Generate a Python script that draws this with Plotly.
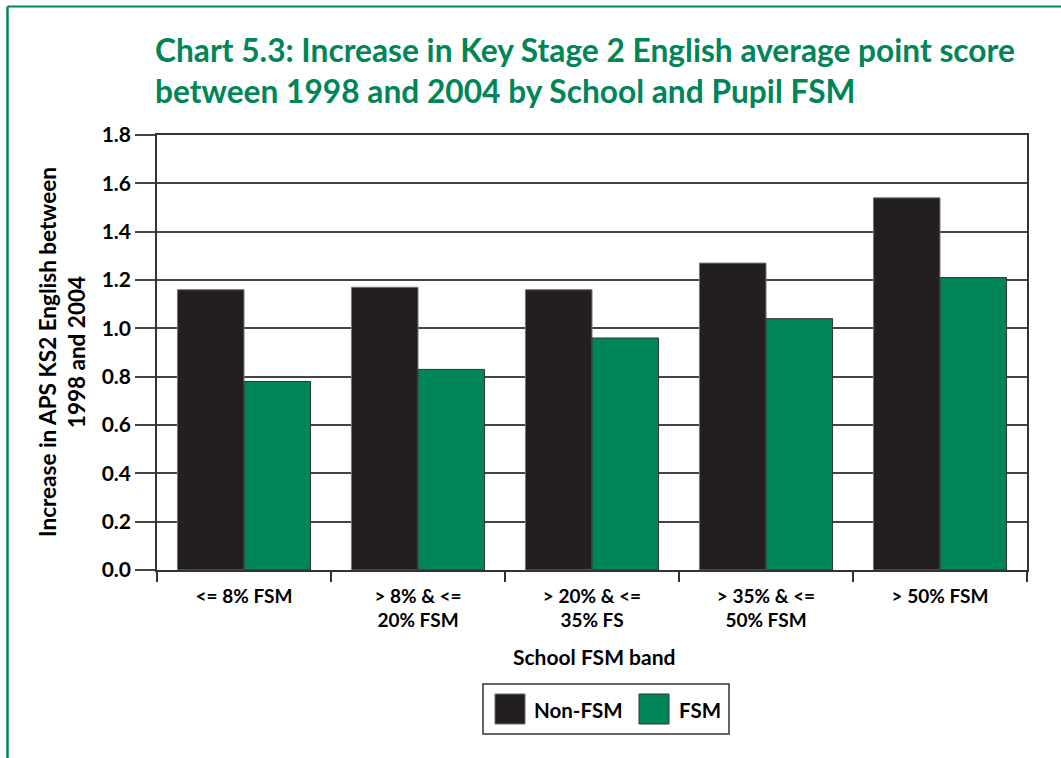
import plotly.graph_objects as go

# ---------------- data ----------------
categories = ["<= 8% FSM", "> 8% & <=<br>20% FSM", "> 20% & <=<br>35% FS",
              "> 35% & <=<br>50% FSM", "> 50% FSM"]
non_fsm = [1.16, 1.17, 1.16, 1.27, 1.54]
fsm = [0.78, 0.83, 0.96, 1.04, 1.21]
series_names = ["Non-FSM", "FSM"]
title_text = ("Chart 5.3: Increase in Key Stage 2 English average point score<br>"
              "between 1998 and 2004 by School and Pupil FSM")
y_title = "Increase in APS KS2 English between<br>1998 and 2004"
x_title = "School FSM band"

# ---------------- styling ----------------
W, H = 1061, 758
L, R, T, B = 157, 1027, 135, 570   # plot area in pixels
GREEN = "#008557"
BLACK = "#231F20"
FONT = "Lato, Liberation Sans, sans-serif"


def px(x):
    return (x - L) / (R - L)


def py(y):
    return (B - y) / (B - T)


fig = go.Figure()
fig.add_trace(go.Bar(x=categories, y=non_fsm, name=series_names[0],
                     marker=dict(color=BLACK, line=dict(color="#777777", width=1)),
                     showlegend=False))
fig.add_trace(go.Bar(x=categories, y=fsm, name=series_names[1],
                     marker=dict(color=GREEN, line=dict(color="#333333", width=1)),
                     showlegend=False))

shapes = []
shapes.append(dict(type="line", xref="paper", yref="paper",
                   x0=px(7.5), x1=px(W + 5), y0=py(6.5), y1=py(6.5),
                   line=dict(color=GREEN, width=2)))
shapes.append(dict(type="line", xref="paper", yref="paper",
                   x0=px(7.5), x1=px(7.5), y0=py(6.5), y1=py(H + 5),
                   line=dict(color=GREEN, width=2.5)))
shapes.append(dict(type="rect", xref="paper", yref="paper",
                   x0=px(483), x1=px(729), y0=py(734), y1=py(684),
                   line=dict(color="#333333", width=1.5), fillcolor="white"))
shapes.append(dict(type="rect", xref="paper", yref="paper",
                   x0=px(495), x1=px(525), y0=py(724), y1=py(694),
                   line=dict(color="#666666", width=1), fillcolor=BLACK))
shapes.append(dict(type="rect", xref="paper", yref="paper",
                   x0=px(639), x1=px(669), y0=py(724), y1=py(694),
                   line=dict(color="#333333", width=1), fillcolor=GREEN))

annotations = [
    dict(text=title_text, xref="paper", yref="paper", x=px(153), y=py(70),
         xanchor="left", yanchor="middle", align="left", showarrow=False,
         font=dict(family=FONT, size=31.7, color=GREEN, weight="bold")),
    dict(text=y_title, xref="paper", yref="paper", x=px(62), y=py(352),
         xanchor="center", yanchor="middle", textangle=-90, showarrow=False,
         font=dict(family=FONT, size=22.5, color="black", weight="bold")),
    dict(text=x_title, xref="paper", yref="paper", x=px(594), y=py(656),
         xanchor="center", yanchor="middle", showarrow=False,
         font=dict(family=FONT, size=21, color="black", weight="bold")),
    dict(text=series_names[0], xref="paper", yref="paper", x=px(532), y=py(710),
         xanchor="left", yanchor="middle", showarrow=False,
         font=dict(family=FONT, size=20.5, color="black", weight="bold")),
    dict(text=series_names[1], xref="paper", yref="paper", x=px(677), y=py(710),
         xanchor="left", yanchor="middle", showarrow=False,
         font=dict(family=FONT, size=20.5, color="black", weight="bold")),
]

fig.update_layout(
    width=W, height=H,
    margin=dict(l=L, r=W - R, t=T, b=H - B, pad=0),
    paper_bgcolor="white", plot_bgcolor="white",
    barmode="group", bargap=0.235, bargroupgap=0,
    shapes=shapes, annotations=annotations,
    showlegend=False,
)
fig.update_yaxes(range=[0, 1.8], dtick=0.2, tickformat=".1f",
                 showgrid=True, gridcolor="#444444", gridwidth=1.5,
                 ticks="outside", ticklen=20, tickcolor="#444444", tickwidth=1.5,
                 showline=True, linecolor="#333333", linewidth=1.5, mirror=True,
                 zeroline=False,
                 tickfont=dict(family=FONT, size=21, color="black", weight="bold"))
fig.update_xaxes(type="category", showline=True, linecolor="#333333", linewidth=1.5,
                 mirror=True, ticks="outside", tickson="boundaries", ticklen=10,
                 tickcolor="#333333", tickwidth=1.5, showgrid=False,
                 ticklabelstandoff=8,
                 tickfont=dict(family=FONT, size=19, color="black", weight="bold"))

fig.write_html("out.html", config={"displayModeBar": False},
               post_script="document.body.style.margin='0';")
